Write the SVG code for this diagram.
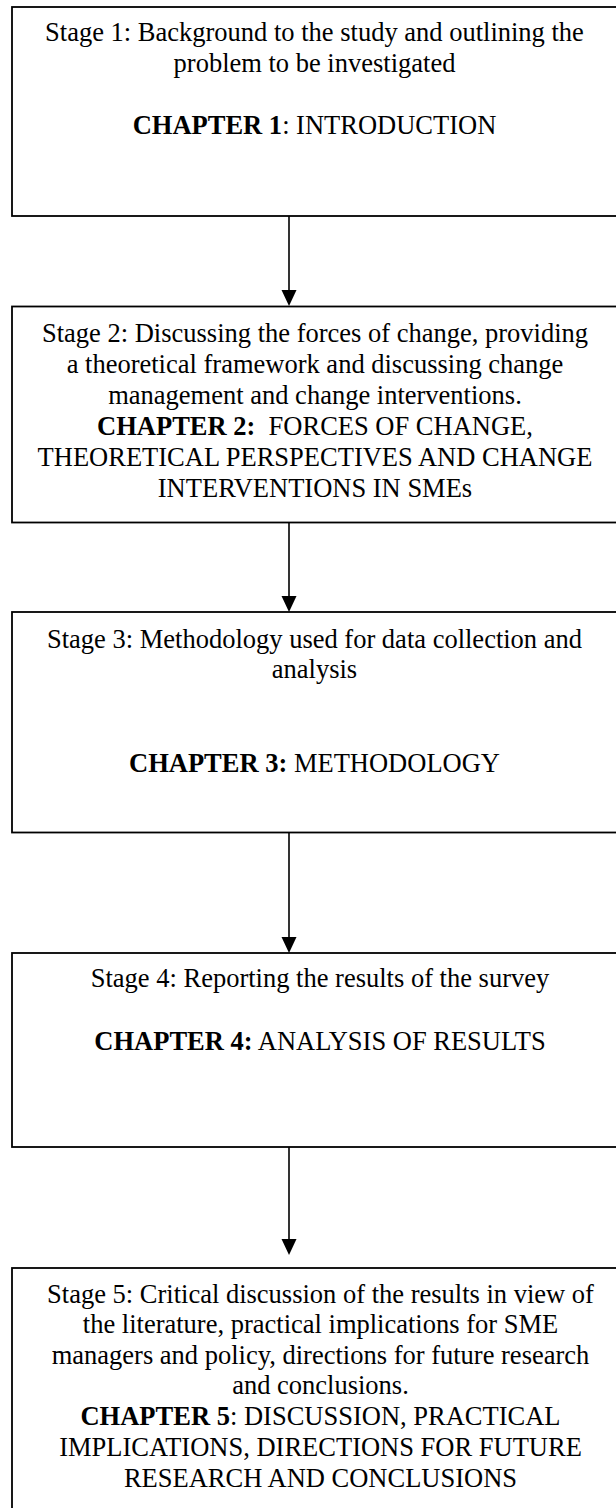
<svg xmlns="http://www.w3.org/2000/svg" width="616" height="1508" viewBox="0 0 616 1508">
<style>
  .box { fill: #ffffff; stroke: #000000; stroke-width: 1.8; }
  .t { font-family: "Liberation Serif", "Times New Roman", serif; font-size: 26.5px; fill: #000000; text-anchor: middle; white-space: pre; }
  .b { font-weight: bold; }
  .edge { stroke: #000000; stroke-width: 1.6; fill: none; }
  .head { fill: #000000; }
</style>
<rect x="0" y="0" width="616" height="1508" fill="#ffffff"/>
<g id="connectors">
  <line class="edge" x1="289" y1="216" x2="289" y2="292"/>
  <polygon class="head" points="281.5,290 296.5,290 289,306"/>
  <line class="edge" x1="289" y1="523" x2="289" y2="598"/>
  <polygon class="head" points="281.5,596 296.5,596 289,612"/>
  <line class="edge" x1="289" y1="833" x2="289" y2="939"/>
  <polygon class="head" points="281.5,937 296.5,937 289,953"/>
  <line class="edge" x1="289" y1="1147" x2="289" y2="1241"/>
  <polygon class="head" points="281.5,1239 296.5,1239 289,1255"/>
</g>
<g id="stage1">
  <rect class="box" x="12" y="7" width="640" height="209"/>
  <text class="t" x="314.5" y="41">Stage 1: Background to the study and outlining the</text>
  <text class="t" x="314.5" y="72">problem to be investigated</text>
  <text class="t" x="314.5" y="134"><tspan class="b">CHAPTER 1</tspan>: INTRODUCTION</text>
</g>
<g id="stage2">
  <rect class="box" x="12" y="306.5" width="640" height="216"/>
  <text class="t" x="315" y="341.5">Stage 2: Discussing the forces of change, providing</text>
  <text class="t" x="315" y="372.5">a theoretical framework and discussing change</text>
  <text class="t" x="315" y="403.5">management and change interventions.</text>
  <text class="t" x="315" y="434.5"><tspan class="b">CHAPTER 2:</tspan>  FORCES OF CHANGE,</text>
  <text class="t" x="315" y="465.5">THEORETICAL PERSPECTIVES AND CHANGE</text>
  <text class="t" x="315" y="496.5">INTERVENTIONS IN SMEs</text>
</g>
<g id="stage3">
  <rect class="box" x="12" y="612" width="640" height="220.5"/>
  <text class="t" x="314.5" y="647.5">Stage 3: Methodology used for data collection and</text>
  <text class="t" x="314.5" y="678">analysis</text>
  <text class="t" x="314.5" y="771.5"><tspan class="b">CHAPTER 3:</tspan> METHODOLOGY</text>
</g>
<g id="stage4">
  <rect class="box" x="12" y="953" width="640" height="194"/>
  <text class="t" x="320" y="987">Stage 4: Reporting the results of the survey</text>
  <text class="t" x="320" y="1049.5"><tspan class="b">CHAPTER 4:</tspan> ANALYSIS OF RESULTS</text>
</g>
<g id="stage5">
  <rect class="box" x="12" y="1268" width="640" height="280"/>
  <text class="t" x="320.5" y="1302.5">Stage 5: Critical discussion of the results in view of</text>
  <text class="t" x="320.5" y="1333">the literature, practical implications for SME</text>
  <text class="t" x="320.5" y="1363.5">managers and policy, directions for future research</text>
  <text class="t" x="320.5" y="1394">and conclusions.</text>
  <text class="t" x="320.5" y="1425"><tspan class="b">CHAPTER 5</tspan>: DISCUSSION, PRACTICAL</text>
  <text class="t" x="320.5" y="1455.5">IMPLICATIONS, DIRECTIONS FOR FUTURE</text>
  <text class="t" x="320.5" y="1486.5">RESEARCH AND CONCLUSIONS</text>
</g>
</svg>
